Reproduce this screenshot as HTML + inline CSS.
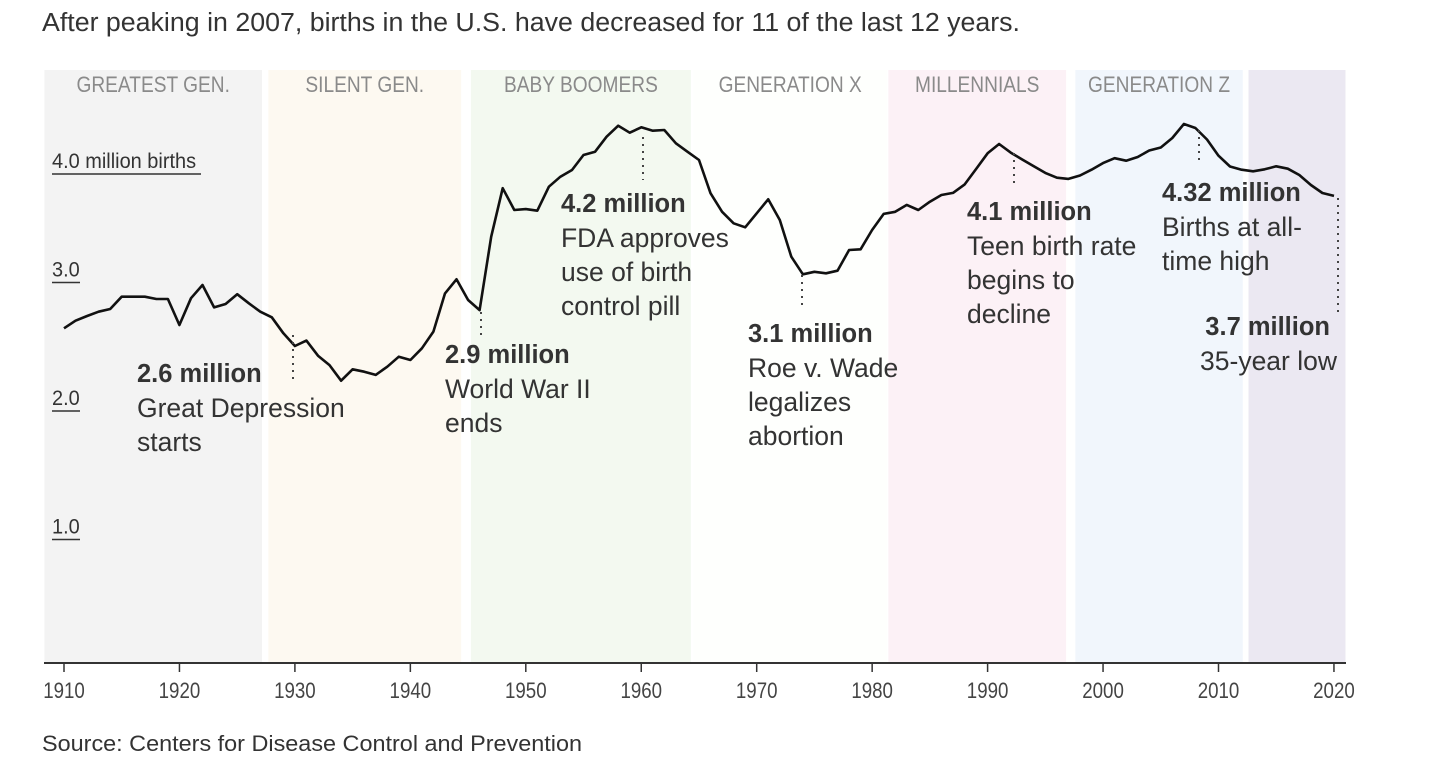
<!DOCTYPE html>
<html><head><meta charset="utf-8"><style>
html,body{margin:0;padding:0;background:#fff;width:1430px;height:784px;overflow:hidden}
svg{display:block}
.t{font-family:"Liberation Sans",sans-serif;fill:#333}
.n{font-family:"Liberation Sans Narrow","Liberation Sans",sans-serif}
</style></head><body>
<svg id="chart" width="1430" height="784" viewBox="0 0 1430 784" xmlns="http://www.w3.org/2000/svg">
<text class="t" x="42" y="31" font-size="25.5" fill="#333" textLength="978" lengthAdjust="spacingAndGlyphs">After peaking in 2007, births in the U.S. have decreased for 11 of the last 12 years.</text>
<g id="bands"></g>
<g id="yaxis"></g>
<g id="xaxis"></g>
<path id="line" fill="none" stroke="#111" stroke-width="2.6" stroke-linejoin="round"/>
<g id="annots"></g>
<text class="t" x="42" y="751" font-size="22" fill="#666" textLength="540" lengthAdjust="spacingAndGlyphs">Source: Centers for Disease Control and Prevention</text>
</svg>
<script>
const years = [];
for (let y = 1910; y <= 2020; y++) years.push(y);
const births = [2.628,2.687,2.724,2.757,2.778,2.874,2.874,2.874,2.856,2.856,
2.654,2.862,2.965,2.791,2.817,2.893,2.823,2.757,2.714,2.589,
2.490,2.532,2.415,2.342,2.220,2.309,2.290,2.265,2.329,2.407,
2.381,2.472,2.602,2.900,3.009,2.848,2.770,3.341,3.718,3.549,
3.556,3.543,3.730,3.808,3.860,3.977,4.002,4.119,4.205,4.150,
4.192,4.166,4.171,4.068,4.002,3.938,3.679,3.535,3.445,3.414,
3.523,3.632,3.471,3.185,3.048,3.068,3.056,3.076,3.237,3.243,
3.393,3.518,3.535,3.588,3.549,3.613,3.665,3.682,3.746,3.868,
3.990,4.062,3.995,3.942,3.889,3.837,3.800,3.791,3.817,3.862,
3.914,3.952,3.932,3.961,4.012,4.035,4.109,4.218,4.187,4.097,
3.971,3.887,3.862,3.850,3.865,3.889,3.870,3.821,3.743,3.681,3.658];
const xTicks = [1910,1920,1930,1940,1950,1960,1970,1980,1990,2000,2010,2020];
const yTicks = [1,2,3,4];
const yTickLabels = ["1.0","2.0","3.0","4.0 million births"];
const genNames = ["GREATEST GEN.","SILENT GEN.","BABY BOOMERS","GENERATION X","MILLENNIALS","GENERATION Z",""];
const genStart = [1908.3,1927.7,1945.25,1964.5,1981.4,1997.6,2012.6];
const genEnd = [1927.15,1944.4,1964.3,1981.3,1996.8,2012.1,2021.0];
const genColors = ["#f3f3f3","#fdf9f1","#f3f9f0","#fefffd","#fcf1f6","#f1f6fc","#ebe8f2"];

const NS = "http://www.w3.org/2000/svg";
const x = yr => 64 + 11.545 * (yr - 1910);
const y = v => 666 - 128.5 * v;
function mk(tag, attrs, parent, text){
  const e = document.createElementNS(NS, tag);
  for (const k in attrs) e.setAttribute(k, attrs[k]);
  if (text !== undefined) e.textContent = text;
  parent.appendChild(e); return e;
}
const bands = document.getElementById('bands');
genNames.forEach((g,i)=>{
  const r = mk('rect',{x:x(genStart[i]),y:70,width:x(genEnd[i])-x(genStart[i]),height:593,fill:genColors[i]},bands);
  
  
  if (g) {
    const cx = (x(genStart[i])+x(genEnd[i]))/2;
    const t = mk('text',{x:0,y:0,transform:'translate('+cx+',92) scale(0.87,1)','text-anchor':'middle','font-size':22,fill:'#8a8a8a',class:'n'},bands,g);
    
    
  }
});
const ya = document.getElementById('yaxis');
yTicks.forEach((v,i)=>{
  const off = v === 4 ? 22 : 2;
  const t = mk('text',{x:0,y:0,transform:'translate(52,'+(y(v)+off-6)+') scale(0.95,1)','font-size':21,fill:'#333',class:'n'},ya,yTickLabels[i]);
  
  
  const w = v === 4 ? 149 : 28;
  const u = mk('line',{x1:52,x2:52+w,y1:y(v)+off,y2:y(v)+off,stroke:'#333','stroke-width':1.5},ya);
  
  
});
const xa = document.getElementById('xaxis');
const al = mk('line',{x1:44,x2:1346,y1:663,y2:663,stroke:'#333','stroke-width':2},xa);


xTicks.forEach(v=>{
  const tk = mk('line',{x1:x(v),x2:x(v),y1:663,y2:672,stroke:'#333','stroke-width':1.5},xa);
  
  
  const t = mk('text',{x:0,y:0,transform:'translate('+x(v)+',698) scale(0.85,1)','text-anchor':'middle','font-size':22,fill:'#444',class:'n'},xa,String(v));
  
  
});
document.getElementById('line').setAttribute('d', births.map((v,i)=>(i?'L':'M')+x(years[i]).toFixed(1)+' '+y(v).toFixed(1)).join(' '));

const annDot = [[335,380],[312,337],[137,180],[275,308],[153,185],[130,160],[198,313]];
const annHead = ["2.6 million","2.9 million","4.2 million","3.1 million","4.1 million","4.32 million","3.7 million"];
const annBody = [["Great Depression","starts"],["World War II","ends"],["FDA approves","use of birth","control pill"],["Roe v. Wade","legalizes","abortion"],["Teen birth rate","begins to","decline"],["Births at all-","time high"],["35-year low"]];
const annPos = [[137,373,'start'],[445,354,'start'],[561,203,'start'],[748,333,'start'],[967,211,'start'],[1162,192,'start'],[1337,326,'end']];
const ann = document.getElementById('annots');
annHead.forEach((h,i)=>{
  const dx = [293,481,643,802,1014,1199,1338][i];
  const d = mk('line',{x1:dx,x2:dx,y1:annDot[i][0],y2:annDot[i][1],stroke:'#444','stroke-width':2,'stroke-dasharray':'2 5'},ann);
  
  
  const [ax,ay,anc] = annPos[i];
  const hx = anc==='end' ? ax-7 : ax;
  const t = mk('text',{x:hx,y:ay+9,'text-anchor':anc,'font-size':25.5,'font-weight':'bold',fill:'#333',class:'t'},ann,h);
  
  
  annBody[i].forEach((line,j)=>{
    const b = mk('text',{x:ax,y:ay+44+j*34,'text-anchor':anc,'font-size':26.5,fill:'#333',class:'t'},ann,line);
    
    
  });
});
</script>
</body></html>
